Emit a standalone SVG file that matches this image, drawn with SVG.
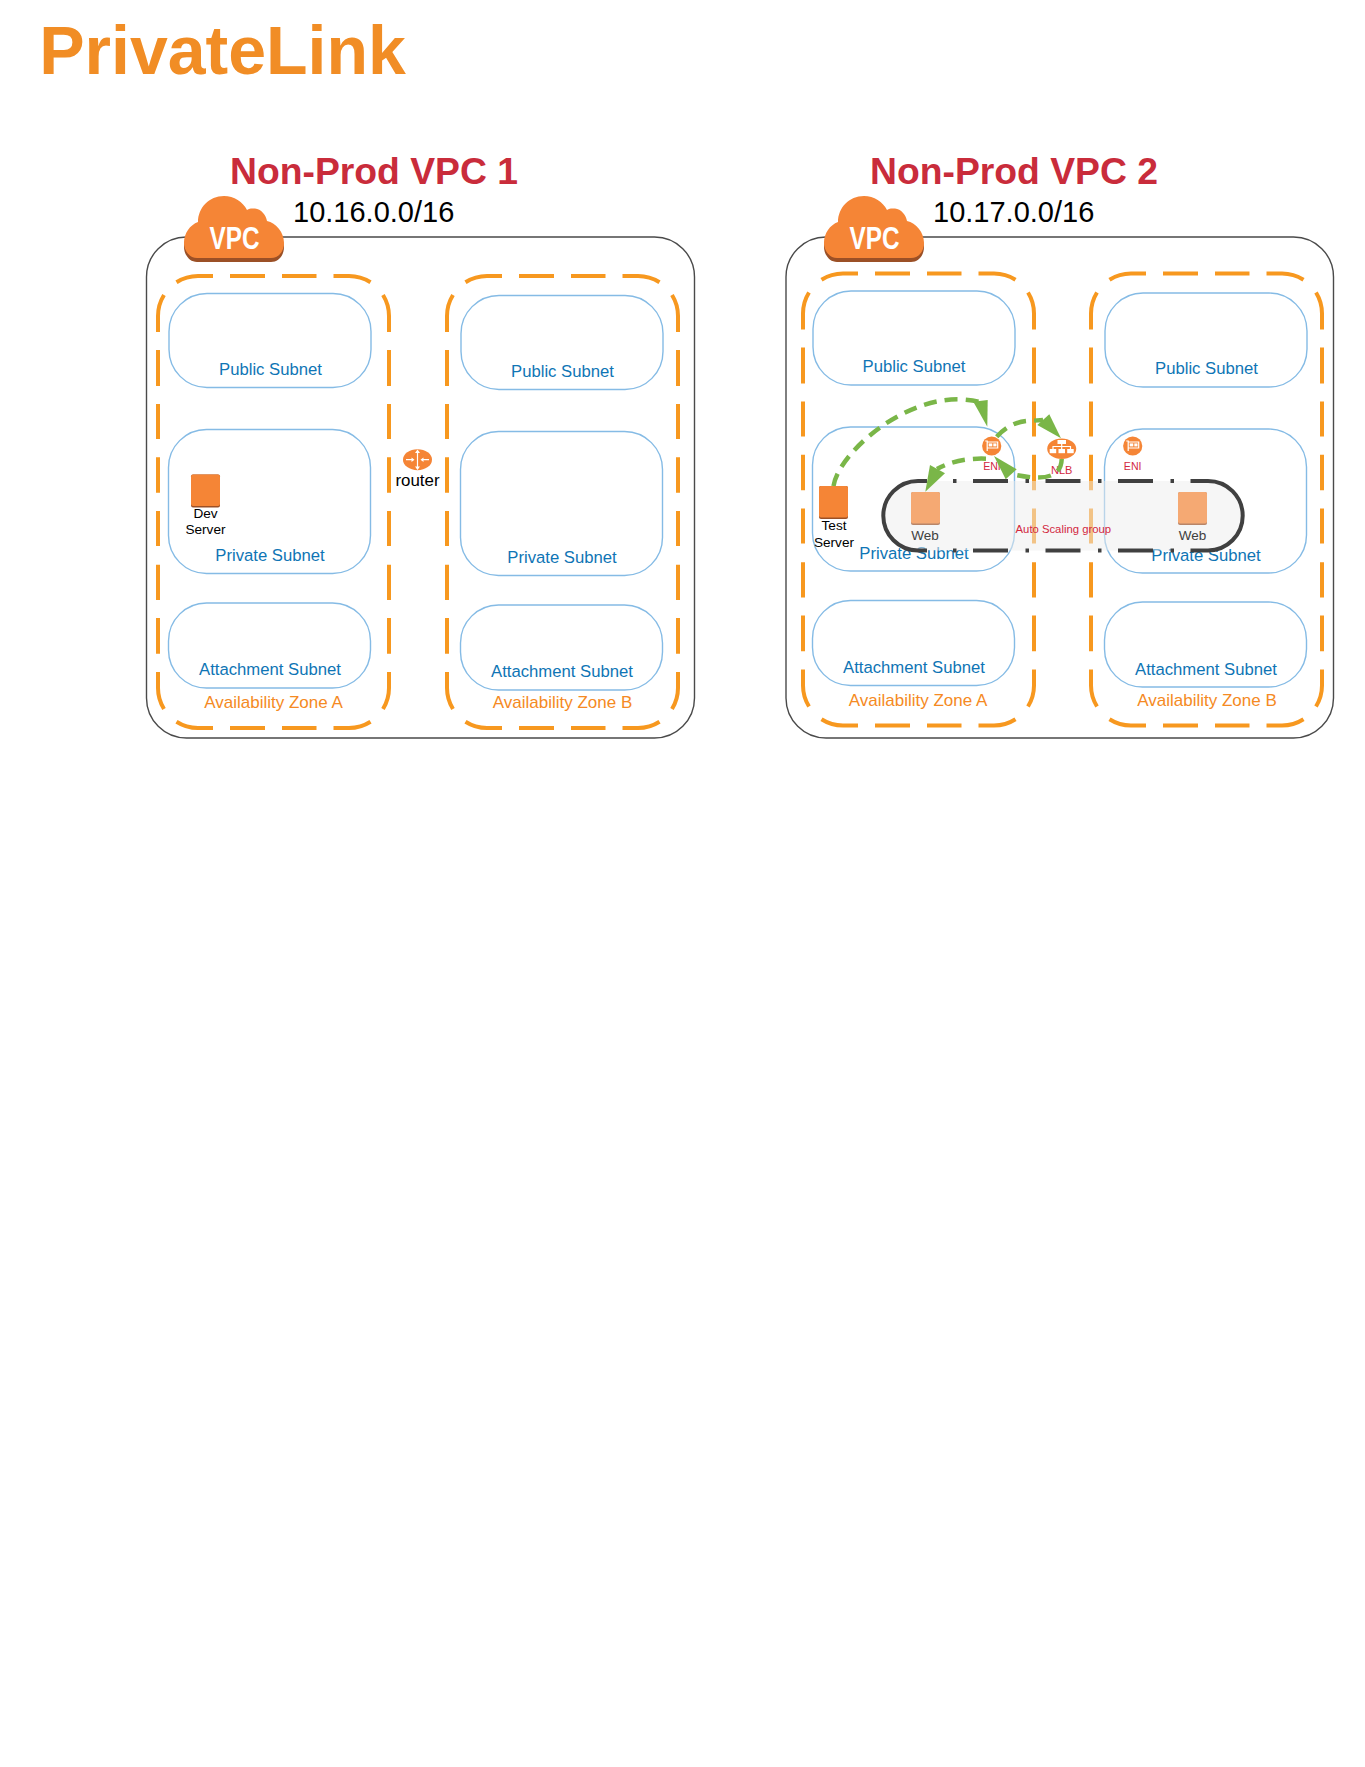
<svg xmlns="http://www.w3.org/2000/svg" xmlns:xlink="http://www.w3.org/1999/xlink" width="1365" height="1767" viewBox="0 0 1365 1767">
<style>
text{font-family:"Liberation Sans",Arial,sans-serif;text-anchor:middle}
.vpc{fill:#fff;stroke:#4A4A4A;stroke-width:1.4}
.zone{fill:none;stroke:#F7981F;stroke-width:4}
.sub{fill:none;stroke:#85BBE5;stroke-width:1.4}
.sl{font-size:16.7px;fill:#0F75B5}
.zl{font-size:17px;fill:#F58A23}
.h1{font-size:37.3px;font-weight:bold;fill:#C92C3B}
.cidr{font-size:29px;fill:#000;text-anchor:start}
.blk{font-size:13.6px;fill:#000}
.red{fill:#D2283F}
.web{font-size:13.5px;fill:#404040}
.vpct{font-size:32px;font-weight:bold;fill:#fff}
.org{fill:#F58536}
.asg{fill:#EDEDED;opacity:.5}
.asgl{fill:none;stroke:#404040;stroke-width:4}
.asgd{fill:none;stroke:#404040;stroke-width:4;stroke-dasharray:3.5 16.5 35 17.5}
.lnk{fill:none;stroke:#7AB648;stroke-width:4.5;stroke-dasharray:13 8}
.hd{fill:#7AB648}
.wh{fill:#fff}
.wl{fill:none;stroke:#fff;stroke-width:1.2}
</style>
<defs>
<path id="cl" d="M13,62C5,62 0,54 0,47C0,37 6,29 14,26C14,12 25,0 40,0C50,0 59,6 63,14C66,12 68,12.5 71,12.5C77,13 82,19 83,25C92,27 100,36 100,47C100,55 95,62 87,62Z"/>
<g id="cloud"><use xlink:href="#cl" href="#cl" y="4" fill="#9B5026"/><use xlink:href="#cl" href="#cl" fill="#F58536"/></g>
<g id="srv"><rect x="0" y="0" width="29" height="33" rx="2" fill="#9B5026"/><rect x="0" y="0" width="29" height="31.5" rx="2" fill="#F58536"/></g>
<g id="nic"><circle r="9.6" fill="#F58536"/><path class="wl" d="M-6.5,-5H-4.5V5M-4.5,-4H6V2H-4.5"/><rect class="wh" x="-3" y="-2.6" width="3.6" height="3" /><rect class="wh" x="1.6" y="-2.6" width="3.2" height="3"/></g>
<path id="zd" class="zone" d="M18.5,6.3A40,40 0 0 1 40,0H55M72,0H107M124,0H158.5M175.5,0H191A40,40 0 0 1 212.5,6.3
M6,19A40,40 0 0 0 0,40V56M0,74V110M0,128V163M0,181.3V216.7M0,235V270M0,288.7V324M0,342V377.7M0,396V412A40,40 0 0 0 6,433
M225,19A40,40 0 0 1 231,40V56M231,74V110M231,128V163M231,181.3V216.7M231,235V270M231,288.7V324M231,342V377.7M231,396V412A40,40 0 0 1 225,433
M18.5,445.7A40,40 0 0 0 40,452H55M72,452H107M124,452H158.5M175.5,452H191A40,40 0 0 0 212.5,445.7"/>
</defs>

<g id="title"><text x="222.5" y="74" font-size="68" font-weight="bold" fill="#F18D25">PrivateLink</text></g>

<g id="vpc1">
<rect class="vpc" x="146.5" y="237" width="548" height="501" rx="40"/>
<use xlink:href="#cloud" href="#cloud" x="184" y="196"/>
<text class="vpct" x="234.5" y="249" textLength="50" lengthAdjust="spacingAndGlyphs">VPC</text>
<text class="h1" x="374" y="184">Non-Prod VPC 1</text>
<text class="cidr" x="293" y="222">10.16.0.0/16</text>
</g>
<g id="vpc2">
<rect class="vpc" x="786" y="237" width="547.5" height="501" rx="40"/>
<use xlink:href="#cloud" href="#cloud" x="824" y="196"/>
<text class="vpct" x="874.5" y="249" textLength="50" lengthAdjust="spacingAndGlyphs">VPC</text>
<text class="h1" x="1014" y="184">Non-Prod VPC 2</text>
<text class="cidr" x="933" y="222">10.17.0.0/16</text>
</g>

<g id="az1a"><use xlink:href="#zd" href="#zd" x="158" y="276"/><text class="zl" x="273.5" y="708">Availability Zone A</text></g>
<g id="az1b"><use xlink:href="#zd" href="#zd" x="447" y="276"/><text class="zl" x="562.5" y="708">Availability Zone B</text></g>
<g id="az2a"><use xlink:href="#zd" href="#zd" x="803" y="273.5"/><text class="zl" x="918" y="706">Availability Zone A</text></g>
<g id="az2b"><use xlink:href="#zd" href="#zd" x="1091" y="273.5"/><text class="zl" x="1207" y="706">Availability Zone B</text></g>

<g id="s1a-pub"><rect class="sub" x="169" y="293.5" width="202" height="94" rx="38"/><text class="sl" x="270.5" y="375">Public Subnet</text></g>
<g id="s1a-prv"><rect class="sub" x="168.5" y="429.5" width="202" height="144" rx="38"/><text class="sl" x="270" y="561">Private Subnet</text></g>
<g id="s1a-att"><rect class="sub" x="168.5" y="603" width="202" height="85" rx="38"/><text class="sl" x="270" y="675">Attachment Subnet</text></g>
<g id="s1b-pub"><rect class="sub" x="461" y="295.5" width="202" height="94" rx="38"/><text class="sl" x="562.5" y="376.5">Public Subnet</text></g>
<g id="s1b-prv"><rect class="sub" x="460.5" y="431.5" width="202" height="144" rx="38"/><text class="sl" x="562" y="563">Private Subnet</text></g>
<g id="s1b-att"><rect class="sub" x="460.5" y="605" width="202" height="85" rx="38"/><text class="sl" x="562" y="677">Attachment Subnet</text></g>

<g id="s2a-pub"><rect class="sub" x="813" y="291" width="202" height="94" rx="38"/><text class="sl" x="914" y="371.5">Public Subnet</text></g>
<g id="s2a-prv"><rect class="sub" x="812.5" y="427" width="202" height="144" rx="38"/><text class="sl" x="914" y="559">Private Subnet</text></g>
<g id="s2a-att"><rect class="sub" x="812.5" y="600.5" width="202" height="85" rx="38"/><text class="sl" x="914" y="672.5">Attachment Subnet</text></g>
<g id="s2b-pub"><rect class="sub" x="1105" y="293" width="202" height="94" rx="38"/><text class="sl" x="1206.5" y="373.5">Public Subnet</text></g>
<g id="s2b-prv"><rect class="sub" x="1104.5" y="429" width="202" height="144" rx="38"/><text class="sl" x="1206" y="561">Private Subnet</text></g>
<g id="s2b-att"><rect class="sub" x="1104.5" y="602" width="202" height="85" rx="38"/><text class="sl" x="1206" y="675">Attachment Subnet</text></g>

<g id="dev-server"><use xlink:href="#srv" href="#srv" x="191" y="474.5"/><text class="blk" x="205.5" y="518">Dev</text><text class="blk" x="205.5" y="534">Server</text></g>
<g id="router">
<ellipse class="org" cx="417.5" cy="459.7" rx="14.5" ry="10.5"/>
<path class="wl" d="M417.5,451V468.5M406,459.7H413M422,459.7H429"/>
<path class="wh" d="M417.5,449.5L415,453H420ZM417.5,470L415,466.5H420ZM414.5,459.7L411.5,457.5V462ZM420.5,459.7L423.5,457.5V462Z"/>
<text x="417.5" y="486" font-size="16.9" fill="#000">router</text>
</g>

<g id="test-server"><use xlink:href="#srv" href="#srv" x="819" y="486"/><text class="blk" x="834" y="530">Test</text><text class="blk" x="834" y="547">Server</text></g>

<g id="asg">
<rect class="asg" x="883.5" y="481" width="359.5" height="69.5" rx="34.7"/>
<path class="asgl" d="M927,481H918A34.7,34.7 0 0 0 918,550.4H927"/>
<path class="asgl" d="M1191,481H1208A34.7,34.7 0 0 1 1208,550.4H1191"/>
<path class="asgd" d="M953,481H1191M953,550.4H1191"/>
<text class="red" x="1063.3" y="533" font-size="11.3">Auto Scaling group</text>
</g>

<g id="web-a"><use xlink:href="#srv" href="#srv" x="911" y="492" opacity=".68"/><text class="web" x="925" y="540">Web</text></g>
<g id="web-b"><use xlink:href="#srv" href="#srv" x="1178" y="492" opacity=".68"/><text class="web" x="1192.5" y="540">Web</text></g>

<g id="eni-a"><use xlink:href="#nic" href="#nic" x="991.7" y="446"/><text class="red" x="992" y="470" font-size="10.6">ENI</text></g>
<g id="eni-b"><use xlink:href="#nic" href="#nic" x="1132.7" y="446"/><text class="red" x="1132.7" y="470" font-size="10.6">ENI</text></g>
<g id="nlb">
<ellipse class="org" cx="1061.7" cy="448.7" rx="14.5" ry="10.3"/>
<rect class="wh" x="1057.5" y="440" width="8.5" height="4"/>
<path class="wl" d="M1061.7,444V449M1053,449V446.5H1070.5V449"/>
<rect class="wh" x="1049.7" y="449" width="6.5" height="4.2"/><rect class="wh" x="1058.5" y="449" width="6.5" height="4.2"/><rect class="wh" x="1067.2" y="449" width="6.5" height="4.2"/>
<text class="red" x="1061.7" y="474" font-size="11">NLB</text>
</g>

<g id="connectors">
<path class="lnk" d="M833.5,486C838,455 900,398 960,399.3Q972,400 980,402"/>
<polygon class="hd" points="987.3,426.7 973.3,401.7 987.7,400"/>
<path class="lnk" d="M996.7,436.7Q1012,420 1033,420.7L1043,420"/>
<polygon class="hd" points="1061,438.3 1037.3,425 1049.3,414.3"/>
<path class="lnk" d="M1061.7,459C1061,482 1035,479 1011,474"/>
<polygon class="hd" points="994,456 1016.7,469.3 1005.7,479.3"/>
<path class="lnk" d="M986,458.7C965,458 950,462 937,469"/>
<polygon class="hd" points="925.3,491.7 930,465 945,473.3"/>
</g>
</svg>
